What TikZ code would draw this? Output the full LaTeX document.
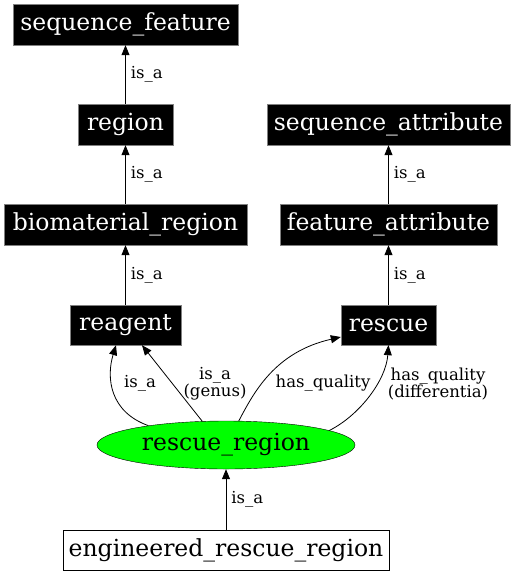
\documentclass[tikz,border=0pt]{standalone}
\usepackage{fontspec}
\setmainfont{DejaVu Serif}
\usetikzlibrary{shapes.geometric,arrows.meta}
\begin{document}
\begin{tikzpicture}[x=1pt,y=-1pt,
  blackbox/.style={rectangle,fill=black,draw=gray,text=white,inner sep=0pt,
    minimum height=41pt,font=\fontsize{23.5}{26}\selectfont},
  whitebox/.style={rectangle,fill=white,draw=black,inner sep=0pt,
    minimum height=40pt,font=\fontsize{23.5}{26}\selectfont},
  greenell/.style={ellipse,fill=green,draw=black,inner sep=0pt,
    minimum width=258pt,minimum height=48pt,font=\fontsize{23.5}{26}\selectfont},
  edge/.style={draw=black,line width=0.8pt,-{Triangle[length=10pt,width=8pt]}},
  elabel/.style={font=\fontsize{16.5}{17.5}\selectfont,inner sep=0pt,align=center}]
\useasboundingbox (0,0) rectangle (517,576);
\node[blackbox,minimum width=225pt] (sf) at (125.5,24.5) {sequence\_feature};
\node[blackbox,minimum width=95pt] (reg) at (125.5,124.5) {region};
\node[blackbox,minimum width=243pt] (bio) at (125.5,224.5) {biomaterial\_region};
\node[blackbox,minimum width=111pt,minimum height=40pt] (rea) at (125.5,325) {reagent};
\node[blackbox,minimum width=243pt] (sa) at (388.5,124.5) {sequence\_attribute};
\node[blackbox,minimum width=217pt] (fa) at (388.5,224.5) {feature\_attribute};
\node[blackbox,minimum width=95pt,minimum height=40pt] (res) at (388.5,325) {rescue};
\node[greenell] (rr) at (226,445) {rescue\_region};
\node[whitebox,minimum width=326pt] (eng) at (226,550) {engineered\_rescue\_region};

\draw[edge] (reg) -- (sf) node[elabel,midway,anchor=west,xshift=5pt] {is\_a};
\draw[edge] (bio) -- (reg) node[elabel,midway,anchor=west,xshift=5pt] {is\_a};
\draw[edge] (rea) -- (bio) node[elabel,midway,anchor=west,xshift=5pt] {is\_a};
\draw[edge] (fa) -- (sa) node[elabel,midway,anchor=west,xshift=5pt] {is\_a};
\draw[edge] (res) -- (fa) node[elabel,midway,anchor=west,xshift=5pt] {is\_a};
\draw[edge] (eng) -- (rr) node[elabel,midway,anchor=west,xshift=5pt] {is\_a};

\draw[edge] (rr.166) .. controls (110,412) and (106,378) .. ([xshift=-9.5pt]rea.south);
\node[elabel] (l1) at (140,383) {is\_a};
\draw[edge] (rr.135) -- ([xshift=16.5pt]rea.south);
\node[elabel] (l2) at (215,384) {is\_a\\(genus)};
\draw[edge] (rr.62) .. controls (254,392) and (275,352) .. ([yshift=-12pt]res.west);
\node[elabel] (l3) at (323,383) {has\_quality};
\draw[edge] (rr.8) .. controls (360,415) and (386,380) .. (res.south);
\node[elabel] (l4) at (438,384) {has\_quality\\(differentia)};
\end{tikzpicture}
\end{document}
